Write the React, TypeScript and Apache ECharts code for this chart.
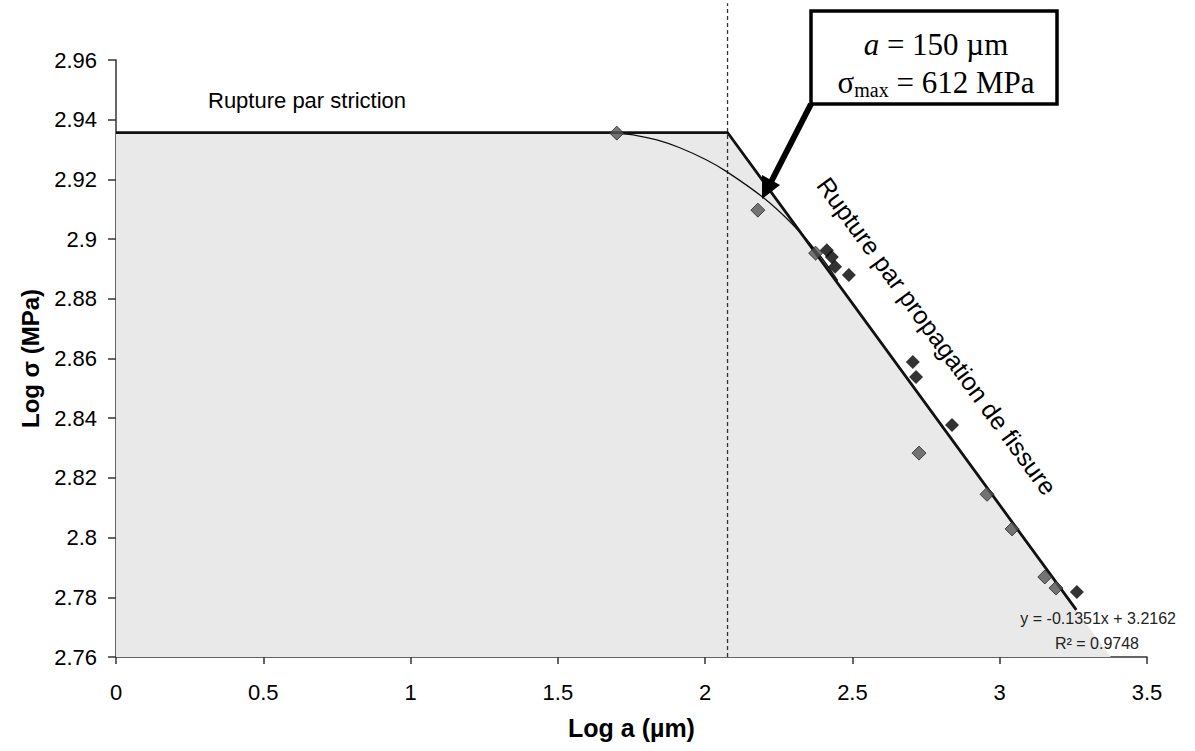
import React, { useEffect, useRef } from "react";
import * as echarts from "echarts";

// ---- data ----
const xTicks = { min: 0, max: 3.5, interval: 0.5 };
const yTicks = { min: 2.76, max: 2.96, interval: 0.02 };

// shaded "no rupture" region boundary
const regionX = [0, 2.076, 3.377];
const regionY = [2.9357, 2.9357, 2.76];

// plateau + linear fit line (y = -0.1351x + 3.2162)
const limitX = [0, 2.076, 3.26];
const limitY = [2.9357, 2.9357, 2.7758];

// thin trend curve
const curveX = [1.7, 1.768, 1.836, 1.914, 2.005, 2.073, 2.196, 2.294, 2.389, 2.45];
const curveY = [2.9355, 2.9347, 2.9332, 2.9306, 2.9265, 2.9226, 2.914, 2.9052, 2.8946, 2.8861];

// grey (patterned) diamonds
const greyX = [1.7, 2.179, 2.375, 2.726, 2.957, 3.042, 3.153, 3.191];
const greyY = [2.9355, 2.9097, 2.8953, 2.8283, 2.8145, 2.8029, 2.7868, 2.7831];

// black diamonds
const blackX = [2.413, 2.43, 2.441, 2.488, 2.705, 2.716, 2.838, 3.262];
const blackY = [2.8963, 2.894, 2.8907, 2.888, 2.8588, 2.8538, 2.8377, 2.7818];

// vertical dashed line at the transition
const dashX = [2.076, 2.076];
const dashY = [2.76, 2.979];

const zip = (xs: number[], ys: number[]) => xs.map((x, i) => [x, ys[i]]);

export default function App() {
  const ref = useRef<HTMLDivElement>(null);
  useEffect(() => {
    if (!ref.current) return;
    const chart = echarts.init(ref.current, null, { renderer: "svg" });
    const font = "Arial, 'Liberation Sans', sans-serif";
    const serif = "'Times New Roman', 'Liberation Serif', serif";
    chart.setOption({
      animation: false,
      backgroundColor: "#ffffff",
      textStyle: { fontFamily: font },
      grid: { left: 116, top: 60, right: 48, bottom: 94, containLabel: false },
      xAxis: {
        type: "value",
        min: xTicks.min,
        max: xTicks.max,
        interval: xTicks.interval,
        name: "Log a (µm)",
        nameLocation: "middle",
        nameGap: 58,
        nameTextStyle: { fontFamily: font, fontSize: 25, fontWeight: "bold", color: "#000" },
        axisLine: { show: true, onZero: false, lineStyle: { color: "#333", width: 1.5 } },
        axisTick: { show: true, inside: false, length: 7, lineStyle: { color: "#333", width: 1.5 } },
        axisLabel: { fontFamily: font, fontSize: 22, color: "#000", margin: 24 },
        splitLine: { show: false },
      },
      yAxis: {
        type: "value",
        min: yTicks.min,
        max: yTicks.max,
        interval: yTicks.interval,
        name: "Log σ (MPa)",
        nameLocation: "middle",
        nameGap: 74,
        nameRotate: 90,
        nameTextStyle: { fontFamily: font, fontSize: 24, fontWeight: "bold", color: "#000" },
        axisLine: { show: true, onZero: false, lineStyle: { color: "#333", width: 1.5 } },
        axisTick: { show: true, inside: false, length: 8, lineStyle: { color: "#333", width: 1.5 } },
        axisLabel: { fontFamily: font, fontSize: 22, color: "#000", margin: 19 },
        splitLine: { show: false },
      },
      series: [
        {
          type: "line",
          data: zip(regionX, regionY),
          symbol: "none",
          lineStyle: { width: 0 },
          areaStyle: { color: "#e9e9e9", opacity: 1, origin: "start" },
          z: 1,
          silent: true,
        },
        {
          type: "line",
          data: zip(limitX, limitY),
          symbol: "none",
          lineStyle: { color: "#111", width: 2.8 },
          z: 3,
        },
        {
          type: "line",
          data: zip(curveX, curveY),
          smooth: 0.3,
          symbol: "none",
          lineStyle: { color: "#111", width: 1.3 },
          z: 3,
        },
        {
          type: "line",
          data: zip(dashX, dashY),
          symbol: "none",
          clip: false,
          lineStyle: { color: "#333", width: 1.3, type: [4, 3] },
          z: 2,
        },
        {
          type: "scatter",
          data: zip(greyX, greyY),
          symbol: "diamond",
          symbolSize: 14,
          itemStyle: { color: "#555", borderColor: "#262626", borderWidth: 1 },
          z: 4,
        },
        {
          type: "scatter",
          data: zip(blackX, blackY),
          symbol: "diamond",
          symbolSize: 14,
          itemStyle: { color: "#000" },
          z: 5,
        },
      ],
      graphic: [
        {
          type: "text",
          left: 208,
          top: 89,
          style: { text: "Rupture par striction", font: `22px ${font}`, fill: "#000" },
        },
        {
          type: "text",
          left: 358,
          top: 372,
          style: { text: "Pas de rupture", font: `25px ${font}`, fill: "#000" },
        },
        {
          type: "text",
          x: 937,
          y: 336,
          rotation: -0.939,
          style: {
            text: "Rupture par propagation de fissure",
            font: `25px ${font}`,
            fill: "#000",
            align: "center",
            verticalAlign: "middle",
          },
          z: 10,
        },
        {
          type: "text",
          x: 1176,
          y: 618,
          style: {
            text: "y = -0.1351x + 3.2162",
            font: `16px ${font}`,
            fill: "#222",
            align: "right",
            verticalAlign: "middle",
          },
          z: 10,
        },
        {
          type: "text",
          x: 1139,
          y: 643,
          style: {
            text: "R² = 0.9748",
            font: `16px ${font}`,
            fill: "#222",
            align: "right",
            verticalAlign: "middle",
          },
          z: 10,
        },
        // annotation box
        {
          type: "rect",
          shape: { x: 811, y: 11, width: 246, height: 93 },
          style: { fill: "#fff", stroke: "#000", lineWidth: 3.5 },
          z: 20,
        },
        {
          type: "text",
          x: 936,
          y: 44,
          style: {
            text: "{i|a}{n| = 150 µm}",
            align: "center",
            verticalAlign: "middle",
            rich: {
              i: { fontFamily: serif, fontSize: 31, fontStyle: "italic", fill: "#000" },
              n: { fontFamily: serif, fontSize: 31, fill: "#000" },
            },
          },
          z: 21,
        },
        {
          type: "text",
          x: 936,
          y: 82,
          style: {
            text: "{n|σ}{s|max}{n| = 612 MPa}",
            align: "center",
            verticalAlign: "middle",
            rich: {
              n: { fontFamily: serif, fontSize: 31, fill: "#000", lineHeight: 36 },
              s: { fontFamily: serif, fontSize: 20, fill: "#000", lineHeight: 22, verticalAlign: "bottom" },
            },
          },
          z: 21,
        },
        // arrow
        {
          type: "line",
          shape: { x1: 811, y1: 104, x2: 771, y2: 182 },
          style: { stroke: "#000", lineWidth: 6 },
          z: 20,
        },
        {
          type: "polygon",
          shape: { points: [[762, 199], [762, 175], [780, 185]] },
          style: { fill: "#000" },
          z: 20,
        },
      ],
    });
    return () => chart.dispose();
  }, []);
  return (
    <div
      ref={ref}
      style={{ position: "fixed", left: 0, top: 0, width: 1195, height: 751, background: "#fff" }}
    />
  );
}
